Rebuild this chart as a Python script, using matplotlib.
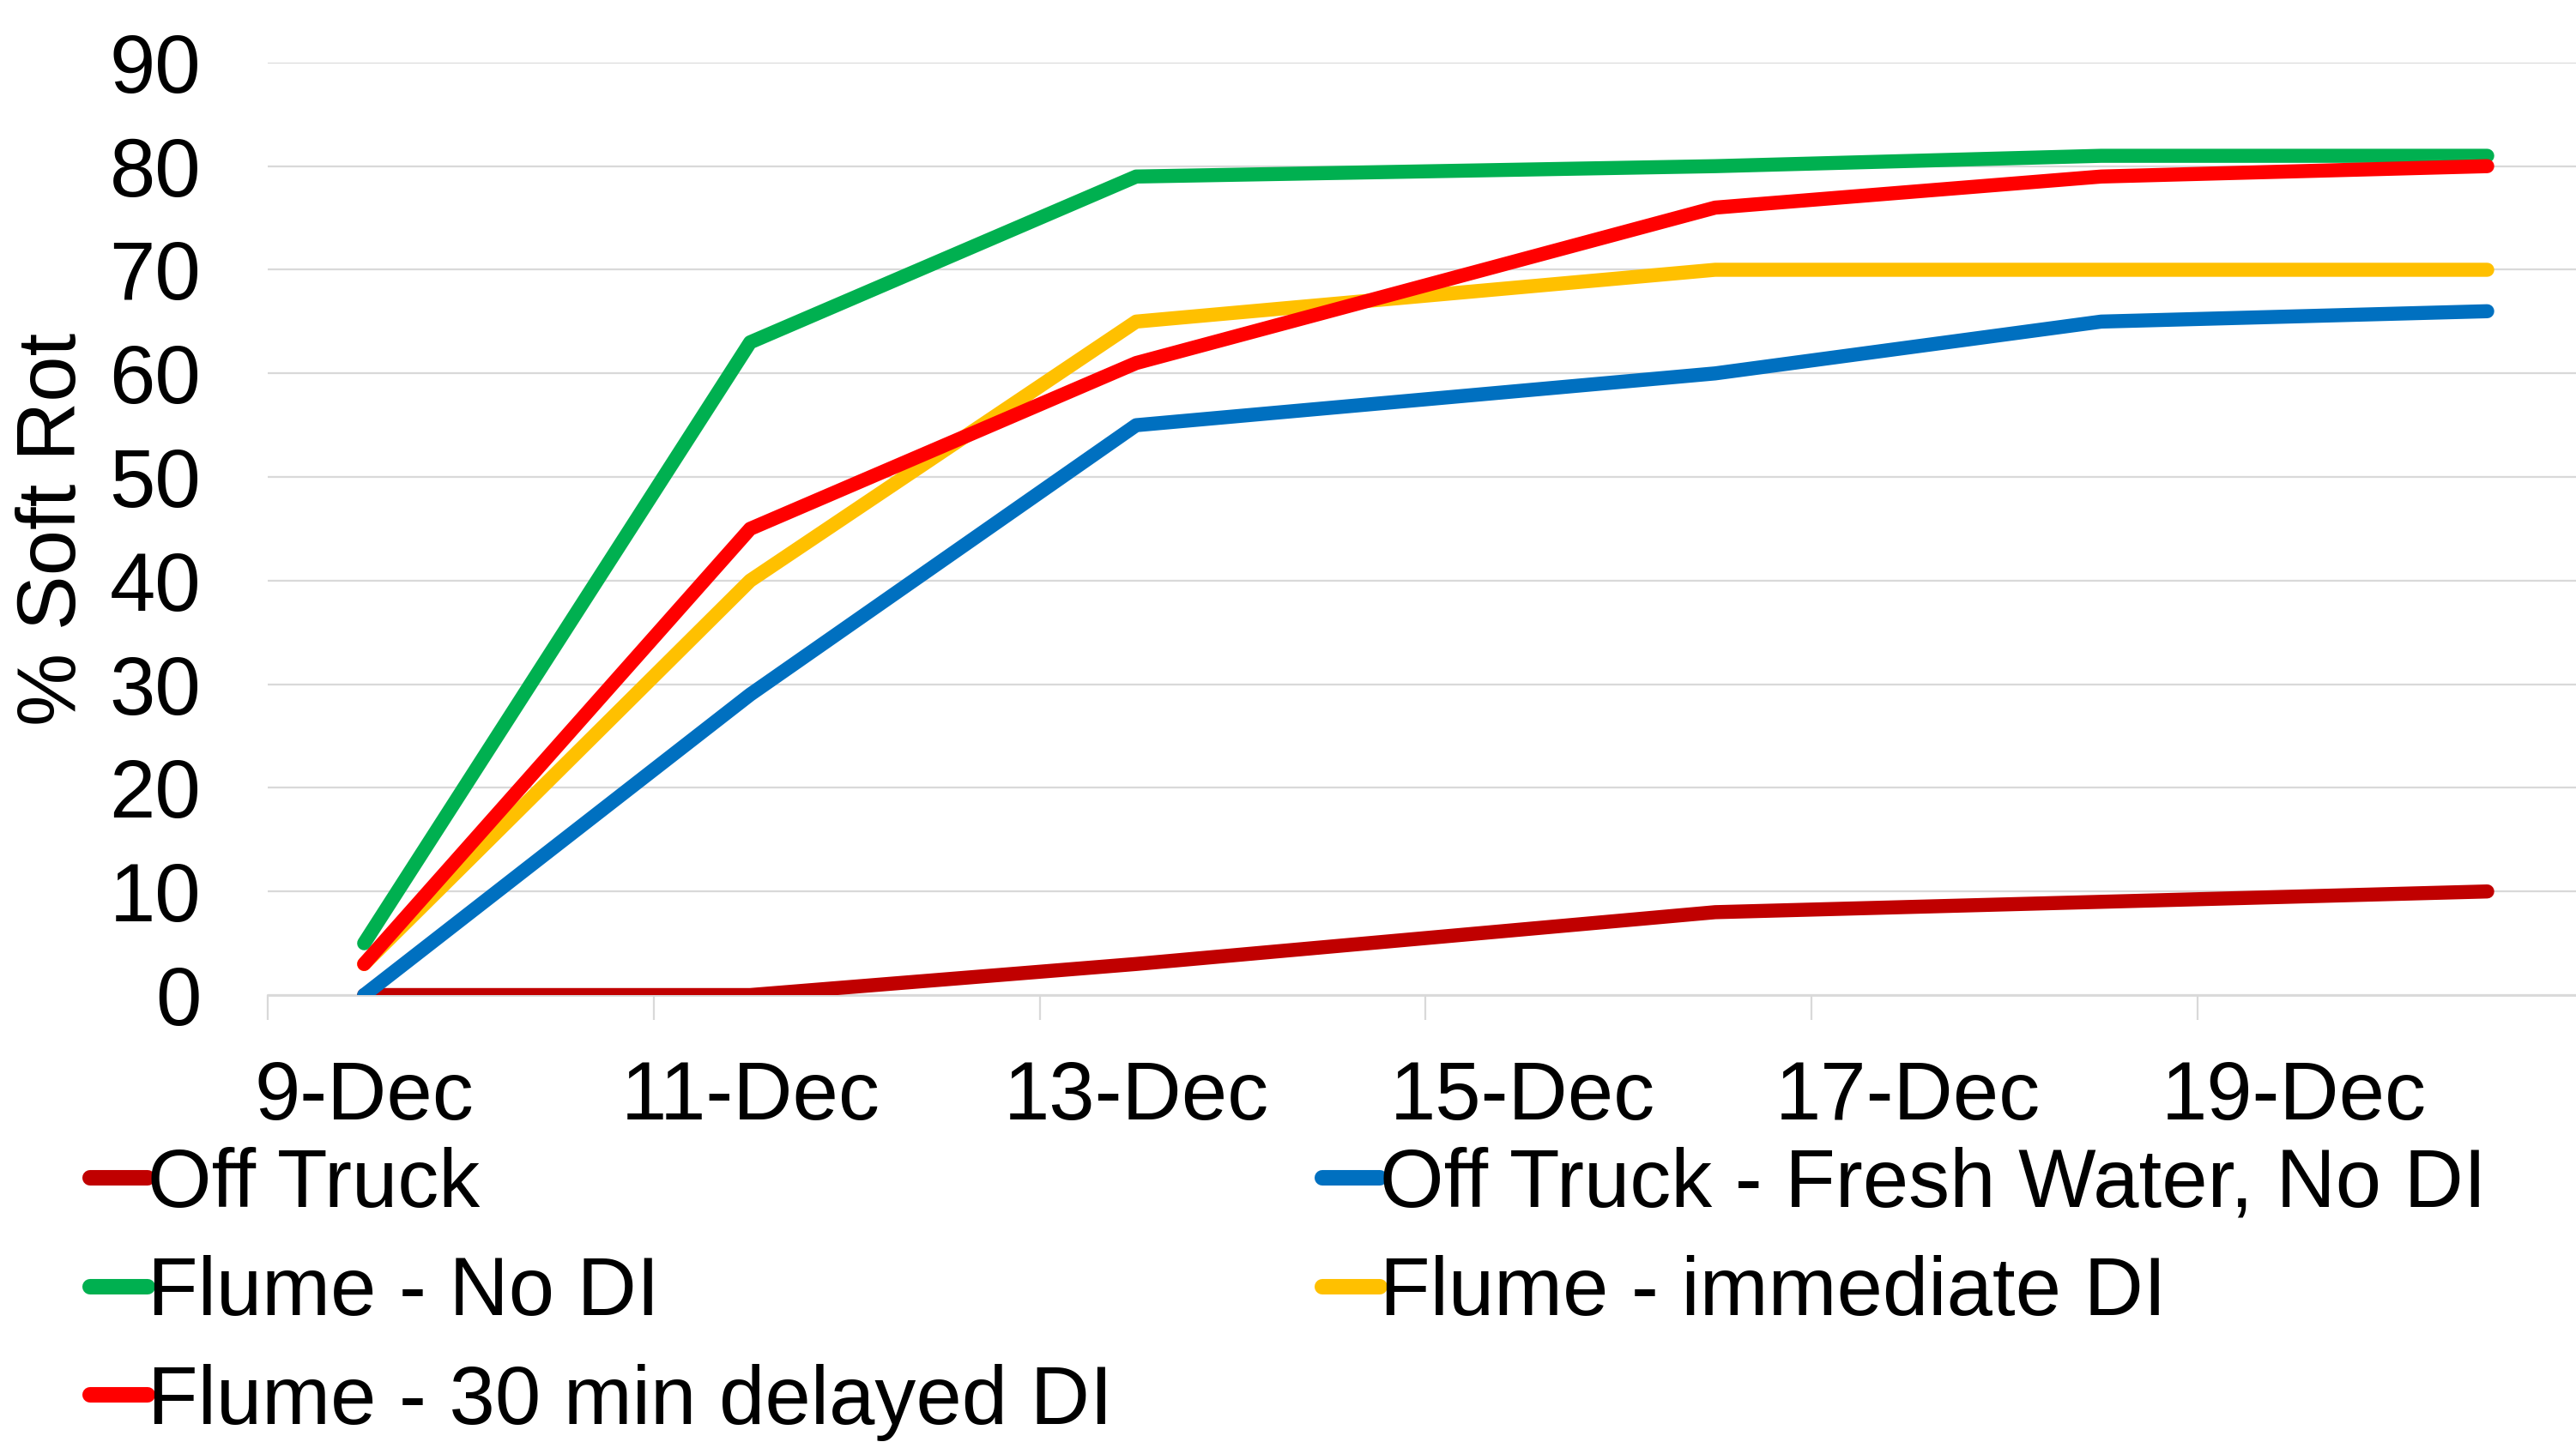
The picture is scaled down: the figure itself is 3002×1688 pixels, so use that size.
import matplotlib
matplotlib.use("Agg")
import matplotlib.pyplot as plt
from matplotlib.ticker import FixedLocator, NullFormatter, FixedFormatter

plt.rcParams['font.family'] = ['Liberation Sans', 'DejaVu Sans']

# Data (day of December)
days = [9, 11, 13, 16, 18, 20]
series_names = ["Off Truck", "Off Truck - Fresh Water, No DI", "Flume - No DI",
                "Flume - immediate DI", "Flume - 30 min delayed DI"]
off_truck = [0, 0, 3, 8, 9, 10]
off_truck_fresh = [0, 29, 55, 60, 65, 66]
flume_no_di = [5, 63, 79, 80, 81, 81]
flume_immediate = [3, 40, 65, 70, 70, 70]
flume_delayed = [3, 45, 61, 76, 79, 80]
colors = ["#C00000", "#0070C0", "#00B050", "#FFC000", "#FF0000"]

tick_days = [9, 11, 13, 15, 17, 19]
tick_labels = ["9-Dec", "11-Dec", "13-Dec", "15-Dec", "17-Dec", "19-Dec"]
y_ticks = list(range(0, 91, 10))

FS = 34.5

fig = plt.figure(figsize=(15.01, 8.44), dpi=200)
ax = fig.add_axes([0.1039, 0.3128, 0.8961, 0.644])

values = [off_truck, off_truck_fresh, flume_no_di, flume_immediate, flume_delayed]
lines = []
for name, vals, c in zip(series_names, values, colors):
    ln, = ax.plot(days, vals, color=c, lw=5.9, solid_joinstyle='round',
                  solid_capstyle='round', label=name, zorder=3)
    lines.append(ln)

ax.set_xlim(8.5, 20.46)
ax.set_ylim(0, 90)
ax.set_yticks(y_ticks)
ax.grid(axis='y', color='#D9D9D9', lw=0.8, zorder=0)
ax.set_axisbelow(True)

ax.xaxis.set_major_locator(FixedLocator([d - 0.5 for d in tick_days] + [20.5]))
ax.xaxis.set_major_formatter(NullFormatter())
ax.xaxis.set_minor_locator(FixedLocator(tick_days))
ax.xaxis.set_minor_formatter(FixedFormatter(tick_labels))
ax.tick_params(axis='x', which='major', length=10.5, width=0.8, color='#D9D9D9', direction='out')
ax.tick_params(axis='x', which='minor', length=0, labelsize=FS, pad=27)
ax.tick_params(axis='y', length=0, labelsize=FS, pad=28)

for s in ['top', 'right', 'left']:
    ax.spines[s].set_visible(False)
ax.spines['bottom'].set_color('#D9D9D9')
ax.spines['bottom'].set_linewidth(1.0)

ax.set_ylabel("% Soft Rot", fontsize=FS)
ax.yaxis.label.set_va('center')
ax.yaxis.set_label_coords(-0.0926, 0.5)

order = [0, 2, 4, 1, 3]
leg = fig.legend([lines[i] for i in order], [series_names[i] for i in order],
                 ncol=2, loc='upper left', bbox_to_anchor=(0.035, 0.208),
                 frameon=False, fontsize=FS, handlelength=0.7, handletextpad=0.0,
                 columnspacing=2.55, labelspacing=0.38, borderaxespad=0, borderpad=0)
for h in leg.get_lines():
    h.set_linewidth(6.5)
    h.set_solid_capstyle('round')

fig.savefig("out.png", dpi=200)
